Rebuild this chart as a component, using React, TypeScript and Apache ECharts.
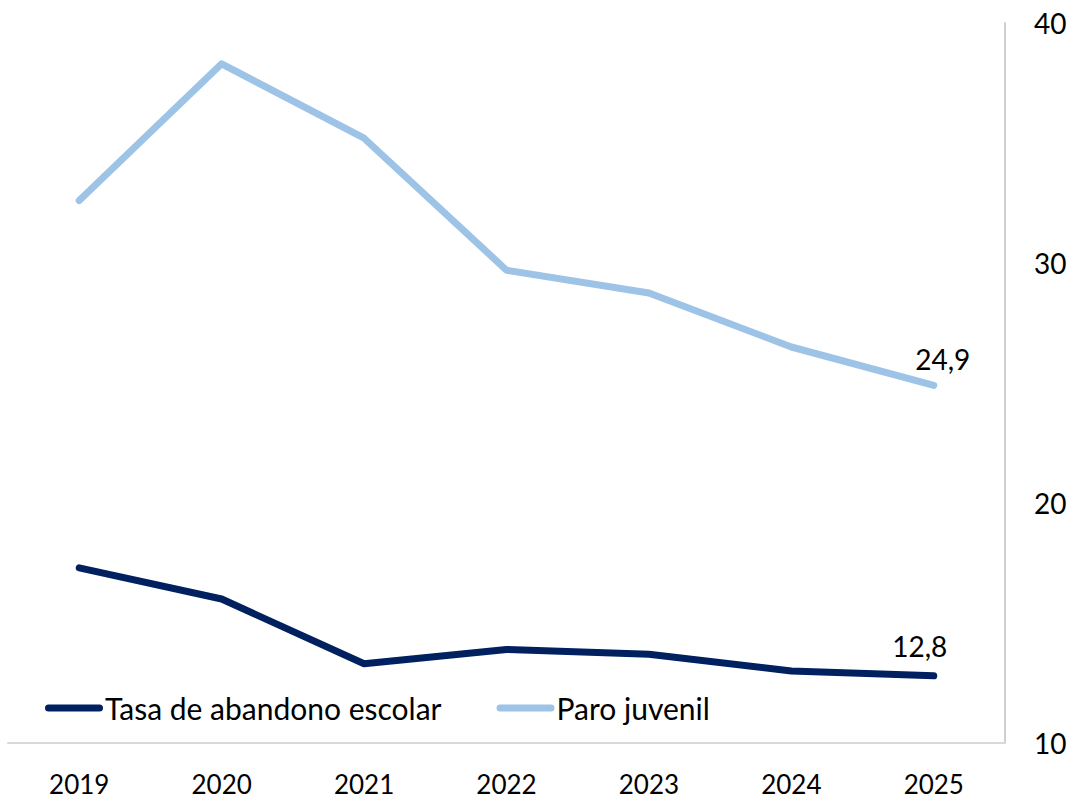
import React, { useEffect, useRef } from "react";
import * as echarts from "echarts";

const years = ["2019", "2020", "2021", "2022", "2023", "2024", "2025"];
const abandono = [17.3, 16.0, 13.3, 13.9, 13.7, 13.0, 12.8];
const paro = [32.6, 38.3, 35.2, 29.7, 28.75, 26.5, 24.9];
const yTicks = [10, 20, 30, 40];

const fmt = (v: number) => v.toFixed(1).replace(".", ",");
const FONT = "Lato";
const NAVY = "#002060";
const LIGHT = "#9dc3e6";
const capsule = "path://M3.5,0 H54.5 A3.5,3.5 0 0 1 54.5,7 H3.5 A3.5,3.5 0 0 1 3.5,0 Z";

export default function App() {
  const ref = useRef<HTMLDivElement>(null);
  useEffect(() => {
    if (!ref.current) return;
    const chart = echarts.init(ref.current, null, { renderer: "svg" });
    const withLastLabel = (arr: number[], offset: number[]) =>
      arr.map((v, i) =>
        i === arr.length - 1
          ? {
              value: v,
              label: {
                show: true,
                position: "top",
                distance: 0,
                offset,
                fontSize: 28,
                fontFamily: FONT,
                color: "#000",
                formatter: (p: any) => fmt(p.value),
              },
            }
          : v
      );
    chart.setOption({
      animation: false,
      backgroundColor: "#fff",
      grid: { left: 8, right: 71, top: 23, bottom: 58, containLabel: false },
      legend: {
        left: 45,
        top: 693,
        padding: 0,
        itemWidth: 58,
        itemHeight: 7,
        itemGap: 55,
        icon: capsule,
        textStyle: { fontSize: 30, fontFamily: FONT, color: "#000", padding: [0, 0, 0, -3] },
        data: [
          { name: "Tasa de abandono escolar", itemStyle: { color: NAVY } },
          { name: "Paro juvenil", itemStyle: { color: LIGHT } },
        ],
      },
      xAxis: {
        type: "category",
        data: years,
        boundaryGap: true,
        axisLine: { lineStyle: { color: "#d9d9d9", width: 2 } },
        axisTick: { show: false },
        axisLabel: { fontSize: 26, lineHeight: 24, fontFamily: FONT, color: "#000", margin: 29 },
      },
      yAxis: {
        type: "value",
        position: "right",
        min: 10,
        max: 40,
        interval: 10,
        axisLine: { show: true, lineStyle: { color: "#d0d0d0", width: 2 } },
        axisTick: { show: false },
        splitLine: { show: false },
        axisLabel: {
          fontSize: 28,
          fontFamily: FONT,
          color: "#000",
          margin: 29,
          formatter: (v: number) => (yTicks.includes(v) ? String(v) : ""),
        },
      },
      series: [
        {
          name: "Tasa de abandono escolar",
          type: "line",
          data: withLastLabel(abandono, [-14, -16]),
          symbol: "circle",
          symbolSize: 0,
          showSymbol: true,
          color: NAVY,
          itemStyle: { color: NAVY },
          lineStyle: { width: 7, color: NAVY, cap: "round", join: "round" },
          emphasis: { disabled: true },
        },
        {
          name: "Paro juvenil",
          type: "line",
          data: withLastLabel(paro, [9, -12]),
          symbol: "circle",
          symbolSize: 0,
          showSymbol: true,
          color: LIGHT,
          itemStyle: { color: LIGHT },
          lineStyle: { width: 7, color: LIGHT, cap: "round", join: "round" },
          emphasis: { disabled: true },
        },
      ],
    });
    return () => chart.dispose();
  }, []);
  return (
    <div
      ref={ref}
      style={{ position: "fixed", left: 0, top: 0, width: 1076, height: 801 }}
    />
  );
}
